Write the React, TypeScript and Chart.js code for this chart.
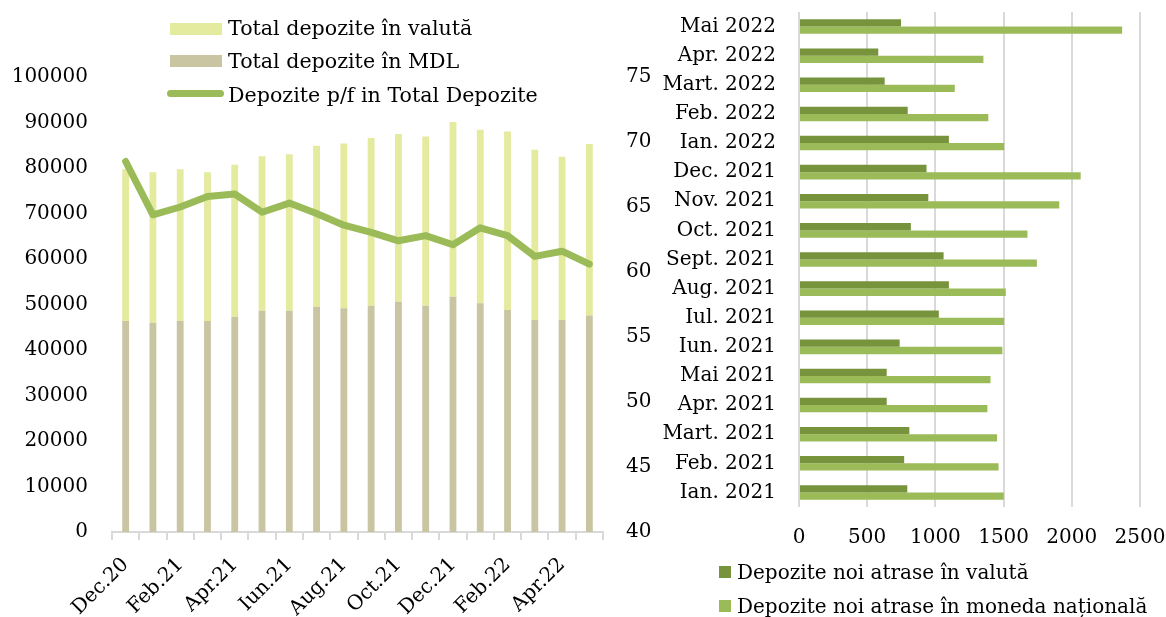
import React, { useEffect, useRef } from "react";
import { Chart, registerables } from "chart.js";

Chart.register(...registerables);

// ---- Left chart data ----
const months = ["Dec.20", "Ian.21", "Feb.21", "Mar.21", "Apr.21", "Mai.21", "Iun.21", "Iul.21", "Aug.21", "Sep.21", "Oct.21", "Nov.21", "Dec.21", "Ian.22", "Feb.22", "Mar.22", "Apr.22", "Mai.22"];
const depMDL = [46400, 46000, 46400, 46400, 47300, 48600, 48600, 49500, 49200, 49700, 50600, 49700, 51700, 50300, 48800, 46600, 46600, 47600];
const depFX = [33300, 33050, 33300, 32650, 33400, 34000, 34400, 35400, 36200, 36900, 36900, 37200, 38400, 38100, 39200, 37400, 35900, 37700];
const shareIndiv = [68.5, 64.4, 65.0, 65.8, 66.0, 64.6, 65.3, 64.5, 63.6, 63.05, 62.4, 62.8, 62.1, 63.4, 62.8, 61.2, 61.6, 60.6];

// ---- Right chart data ----
const newLabels = ["Ian. 2021", "Feb. 2021", "Mart. 2021", "Apr. 2021", "Mai 2021", "Iun. 2021", "Iul. 2021", "Aug. 2021", "Sept. 2021", "Oct. 2021", "Nov. 2021", "Dec. 2021", "Ian. 2022", "Feb. 2022", "Mart. 2022", "Apr. 2022", "Mai 2022"];
const newFX = [794, 771, 809, 643, 643, 738, 1025, 1099, 1060, 820, 948, 935, 1099, 797, 628, 581, 748];
const newMDL = [1501, 1463, 1452, 1381, 1404, 1491, 1504, 1516, 1744, 1675, 1908, 2065, 1504, 1388, 1142, 1352, 2369];

const FONT_FAMILY = "'DejaVu Serif', serif";
const font = { family: FONT_FAMILY, size: 20 };

const C_MDL = "#C9C4A1";
const C_FX = "#E4EA9E";
const C_LINE = "#9BBB59";
const C_DARK = "#77933C";
const C_LIGHT = "#9BBB59";
const C_GRID = "#D9D9D9";

export default function App() {
  const leftRef = useRef<HTMLCanvasElement>(null);
  const rightRef = useRef<HTMLCanvasElement>(null);

  useEffect(() => {
    const left = new Chart(leftRef.current!, {
      type: "bar",
      data: {
        labels: months,
        datasets: [
          {
            type: "line",
            label: "Depozite p/f in Total Depozite",
            data: shareIndiv,
            yAxisID: "y1",
            borderColor: C_LINE,
            backgroundColor: C_LINE,
            borderWidth: 7,
            pointRadius: 0,
            tension: 0,
            borderJoinStyle: "round",
            borderCapStyle: "round",
            order: 0,
          } as any,
          {
            type: "bar",
            label: "Total depozite în MDL",
            data: depMDL,
            yAxisID: "y",
            backgroundColor: C_MDL,
            stack: "s",
            order: 1,
            categoryPercentage: 0.25,
            barPercentage: 1,
          },
          {
            type: "bar",
            label: "Total depozite în valută",
            data: depFX,
            yAxisID: "y",
            backgroundColor: C_FX,
            stack: "s",
            order: 2,
            categoryPercentage: 0.25,
            barPercentage: 1,
          },
        ],
      },
      options: {
        animation: false,
        responsive: false,
        layout: { padding: { top: 77, left: 0, right: 0, bottom: 0 } },
        plugins: { legend: { display: false }, tooltip: { enabled: false } },
        scales: {
          x: {
            stacked: true,
            offset: true,
            grid: { display: true, drawOnChartArea: false, drawTicks: true, tickLength: 8, color: C_GRID, lineWidth: 2, offset: true },
            border: { display: true, color: C_GRID, width: 2 },
            ticks: {
              autoSkip: false,
              minRotation: 45,
              maxRotation: 45,
              padding: 13,
              color: "#000",
              font,
              callback: (_v: any, i: number) => (i % 2 === 0 ? months[i] : ""),
            },
            afterFit: (s: any) => {
              s.height = 85;
              s.paddingLeft = 0;
              s.paddingRight = 0;
            },
          },
          y: {
            stacked: true,
            min: 0,
            max: 100000,
            ticks: { stepSize: 10000, color: "#000", font, padding: 24, callback: (v: any) => String(v) },
            grid: { display: false, drawTicks: false },
            border: { display: false },
            afterFit: (s: any) => {
              s.width = 112;
              s.paddingTop = 0;
              s.paddingBottom = 0;
            },
          },
          y1: {
            position: "right",
            min: 40,
            max: 75,
            ticks: { stepSize: 5, color: "#000", font, padding: 23, callback: (v: any) => String(v) },
            grid: { display: false, drawTicks: false },
            border: { display: false },
            afterFit: (s: any) => {
              s.width = 57;
              s.paddingTop = 0;
              s.paddingBottom = 0;
            },
          },
        },
      } as any,
    });

    const right = new Chart(rightRef.current!, {
      type: "bar",
      data: {
        labels: newLabels,
        datasets: [
          {
            label: "Depozite noi atrase în valută",
            data: newFX,
            backgroundColor: C_DARK,
            categoryPercentage: 0.5,
            barPercentage: 1,
          },
          {
            label: "Depozite noi atrase în moneda națională",
            data: newMDL,
            backgroundColor: C_LIGHT,
            categoryPercentage: 0.5,
            barPercentage: 1,
          },
        ],
      },
      options: {
        indexAxis: "y",
        animation: false,
        responsive: false,
        layout: { padding: { top: 12, right: 26, bottom: 60, left: 0 } },
        plugins: { legend: { display: false }, tooltip: { enabled: false } },
        scales: {
          x: {
            min: 0,
            max: 2500,
            ticks: { stepSize: 500, color: "#000", font, padding: 19, callback: (v: any) => String(v) },
            grid: { color: C_GRID, lineWidth: 2, drawTicks: false },
            border: { display: false },
            afterFit: (s: any) => {
              s.height = 50;
              s.paddingLeft = 0;
              s.paddingRight = 0;
            },
          },
          y: {
            reverse: true,
            ticks: { color: "#000", font, padding: 23, autoSkip: false },
            grid: { display: false, drawTicks: false },
            border: { display: false },
            afterFit: (s: any) => {
              s.width = 139;
              s.paddingTop = 0;
              s.paddingBottom = 0;
            },
          },
        },
      } as any,
    });

    return () => {
      left.destroy();
      right.destroy();
    };
  }, []);

  const textStyle: React.CSSProperties = {
    position: "absolute",
    fontFamily: FONT_FAMILY,
    fontSize: 20,
    lineHeight: "24px",
    color: "#000",
    whiteSpace: "nowrap",
  };
  const leftLegendText: React.CSSProperties = { ...textStyle, fontSize: 20.6 };

  return (
    <div style={{ position: "absolute", left: 0, top: 0, width: 1166, height: 617, background: "#fff", overflow: "hidden" }}>
      <canvas ref={leftRef} width={660} height={617} style={{ position: "absolute", left: 0, top: 0 }} />
      <canvas ref={rightRef} width={506} height={617} style={{ position: "absolute", left: 660, top: 0 }} />

      {/* Left legend */}
      <div style={{ position: "absolute", left: 170, top: 23, width: 52, height: 12, background: C_FX }} />
      <div style={{ ...leftLegendText, left: 228, top: 16 }}>Total depozite în valută</div>
      <div style={{ position: "absolute", left: 170, top: 55, width: 52, height: 12, background: C_MDL }} />
      <div style={{ ...leftLegendText, left: 228, top: 49 }}>Total depozite în MDL</div>
      <div style={{ position: "absolute", left: 167, top: 90, width: 57, height: 7, borderRadius: 3.5, background: C_LINE }} />
      <div style={{ ...leftLegendText, left: 228, top: 83 }}>Depozite p/f in Total Depozite</div>

      {/* Right legend */}
      <div style={{ position: "absolute", left: 719, top: 566, width: 12, height: 12, background: C_DARK }} />
      <div style={{ ...textStyle, left: 737, top: 560 }}>Depozite noi atrase în valută</div>
      <div style={{ position: "absolute", left: 719, top: 600, width: 12, height: 12, background: C_LIGHT }} />
      <div style={{ ...textStyle, left: 737, top: 594 }}>Depozite noi atrase în moneda națională</div>
    </div>
  );
}
